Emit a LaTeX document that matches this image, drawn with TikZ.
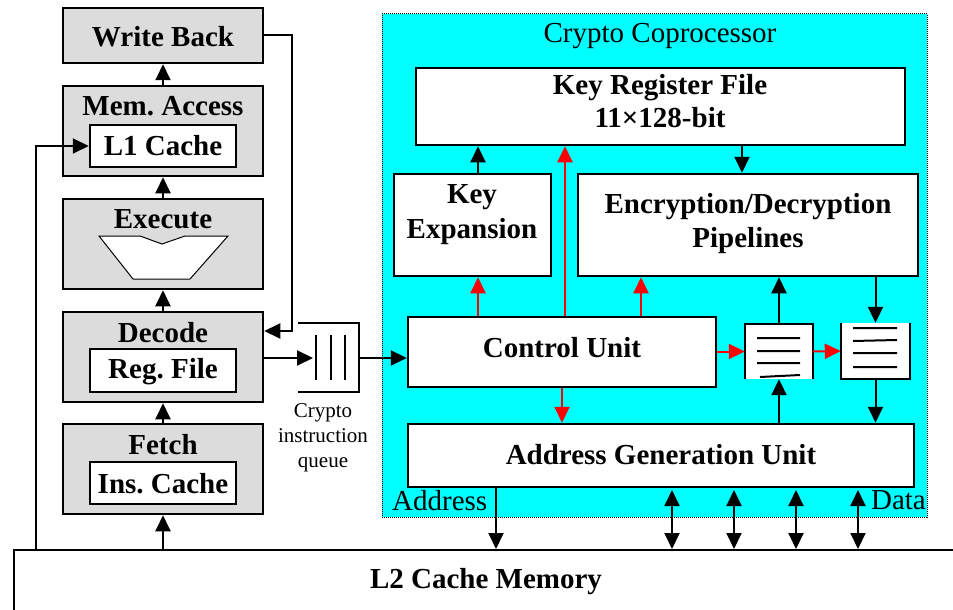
\documentclass[tikz,border=0pt]{standalone}
\usepackage{fontspec}
\setmainfont{Liberation Serif}
\usetikzlibrary{arrows.meta}
\definecolor{pgray}{HTML}{DCDCDC}
\definecolor{ccyan}{HTML}{00FFFF}
\definecolor{cred}{HTML}{FF0000}
\frenchspacing
\begin{document}
\begin{tikzpicture}[x=1pt,y=-1pt,
  gbox/.style={draw, line width=2.5pt, fill=pgray, inner sep=0pt},
  wbox/.style={draw, line width=2.5pt, fill=white, inner sep=0pt},
  lbl/.style={font=\frenchspacing\bfseries\fontsize{29}{34}\selectfont, inner sep=0pt, anchor=base},
  rlbl/.style={font=\fontsize{29}{34}\selectfont, inner sep=0pt, anchor=base},
  slbl/.style={font=\fontsize{21}{25}\selectfont, inner sep=0pt, anchor=base},
  arr/.style={-{Triangle[length=16pt,width=15pt]}, line width=2pt},
  darr/.style={{Triangle[length=16pt,width=15pt]}-{Triangle[length=16pt,width=15pt]}, line width=2pt},
  rarr/.style={arr, draw=cred, -{Triangle[length=16pt,width=15pt,fill=cred,color=cred]}},
  ln/.style={line width=2pt}]
\clip (0,0) rectangle (953,610);
\fill[white] (0,0) rectangle (953,610);

% ---------- Crypto coprocessor background ----------
\node[draw, line width=1pt, dash pattern=on 1pt off 1pt, fill=ccyan, inner sep=0pt,
      minimum width=545pt, minimum height=503pt] (cop) at (654.5,265.5) {};
\node[rlbl] (copt) at (660,43) {Crypto Coprocessor};

% ---------- L2 ----------
\node[draw, line width=2pt, fill=white, inner sep=0pt, minimum width=1000pt, minimum height=100pt,
      anchor=north west] (l2) at (13,549) {};
\node[lbl] (l2t) at (486,588) {L2 Cache Memory};

% ---------- pipeline ----------
\node[gbox, minimum width=200pt, minimum height=55pt] (wb) at (163,35.5) {};
\node[lbl] (wbt) at (163,47) {Write Back};

\node[gbox, minimum width=200pt, minimum height=90pt] (mem) at (163,131) {};
\node[lbl] (memt) at (163,115) {Mem. Access};
\node[wbox, minimum width=146pt, minimum height=42pt] (l1) at (163,146) {};
\node[lbl] (l1t) at (163,155) {L1 Cache};

\node[gbox, minimum width=200pt, minimum height=90pt] (exe) at (163,244) {};
\node[lbl] (exet) at (163,228) {Execute};
\draw[fill=white, line width=1pt] (99,236) -- (140,236) -- (162,244) -- (185,236) -- (228,236)
      -- (190,279) -- (133,279) -- cycle;

\node[gbox, minimum width=200pt, minimum height=90pt] (dec) at (163,357) {};
\node[lbl] (dect) at (163,342) {Decode};
\node[wbox, minimum width=146pt, minimum height=43pt] (rf) at (163,370.5) {};
\node[lbl] (rft) at (163,378) {Reg. File};

\node[gbox, minimum width=200pt, minimum height=90pt] (fet) at (163,469) {};
\node[lbl] (fett) at (163,454) {Fetch};
\node[wbox, minimum width=146pt, minimum height=42pt] (ic) at (163,483) {};
\node[lbl] (ict) at (163,493) {Ins. Cache};

\draw[arr] (fet.south |- l2.north) -- (fet.south);
\draw[arr] (fet.north) -- (dec.south);
\draw[arr] (dec.north) -- (exe.south);
\draw[arr] (exe.north) -- (mem.south);
\draw[arr] (mem.north) -- (wb.south);

\coordinate (l2l) at (36,549);
\draw[arr] (l2l) |- (l1.west);
\coordinate (wbturn) at (292,331);
\draw[arr] (wb.east) -| (wbturn) -- (dec.east |- wbturn);

% ---------- instruction queue ----------
\coordinate (qin) at (313,358);
\coordinate (qout) at (359,358);
\draw[ln] (298,323) -- (359,323) -- (359,392) -- (298,392);
\draw[ln] (316,335) -- (316,380) (331,335) -- (331,380) (345,335) -- (345,380);
\draw[arr] (dec.east |- qin) -- (qin);
\node[slbl] (q1) at (323,417) {Crypto};
\node[slbl] (q2) at (323,442) {instruction};
\node[slbl] (q3) at (323,467) {queue};

% ---------- coprocessor blocks ----------
\node[wbox, minimum width=489pt, minimum height=77pt] (krf) at (660.5,106.5) {};
\node[lbl] (krf1) at (660,95) {Key Register File};
\node[lbl] (krf2) at (660,127) {11×128-bit};

\node[wbox, minimum width=157pt, minimum height=102pt] (ke) at (472.5,225) {};
\node[lbl] (ke1) at (472,203) {Key};
\node[lbl] (ke2) at (472,238) {Expansion};

\node[wbox, minimum width=340pt, minimum height=102pt] (enc) at (748,225) {};
\node[lbl] (enc1) at (748,213) {Encryption/Decryption};
\node[lbl] (enc2) at (748,247) {Pipelines};

\node[wbox, minimum width=308pt, minimum height=70pt] (cu) at (562,352) {};
\node[lbl] (cut) at (562,357) {Control Unit};

\node[wbox, minimum width=506pt, minimum height=63pt] (agu) at (661,455.5) {};
\node[lbl] (agut) at (661,464) {Address Generation Unit};

% FIFOs
\node[fill=white, inner sep=0pt, minimum width=68pt, minimum height=55pt] (f1) at (779,351.5) {};
\draw[line width=2.5pt] (f1.south west) -- (f1.north west) -- (f1.north east) -- (f1.south east);
\draw[ln] (757,338) -- (800,338) (757,351) -- (800,351) (757,363) -- (800,363) (760,377) -- (800,375);
\node[fill=white, inner sep=0pt, minimum width=69pt, minimum height=56pt] (f2) at (875.5,351) {};
\draw[line width=2.5pt] (f2.north west) -- (f2.south west) -- (f2.south east) -- (f2.north east);
\draw[ln] (853,328) -- (897,328) (853,341) -- (897,340) (853,353) -- (897,353) (853,367) -- (897,367);

\draw[arr] (qout) -- (cu.west |- qout);

% coordinates for vertical connectors
\coordinate (xa) at (478,0);
\coordinate (xb) at (565,0);
\coordinate (xc) at (641,0);
\coordinate (xd) at (742,0);
\draw[arr] (xa |- ke.north) -- (xa |- krf.south);
\draw[arr] (xd |- krf.south) -- (xd |- enc.north);
\draw[rarr] (xa |- cu.north) -- (xa |- ke.south);
\draw[rarr] (xb |- cu.north) -- (xb |- krf.south);
\draw[rarr] (xc |- cu.north) -- (xc |- enc.south);
\draw[rarr] (cu.south) -- (cu.south |- agu.north);
\draw[rarr] (cu.east |- f1.west) -- (f1.west);
\draw[rarr] (f1.east) -- (f2.west);

\draw[arr] (f1.north) -- (f1.north |- enc.south);
\draw[arr] (f1.south |- agu.north) -- (f1.south);
\draw[arr] (f2.north |- enc.south) -- (f2.north);
\draw[arr] (f2.south) -- (f2.south |- agu.north);

% memory connections
\coordinate (xm) at (496,0);
\draw[arr] (xm |- agu.south) -- (xm |- l2.north);
\coordinate (d1) at (672,490);
\coordinate (d2) at (734,490);
\coordinate (d3) at (796,490);
\coordinate (d4) at (858,490);
\draw[darr] (d1) -- (d1 |- l2.north);
\draw[darr] (d2) -- (d2 |- l2.north);
\draw[darr] (d3) -- (d3 |- l2.north);
\draw[darr] (d4) -- (d4 |- l2.north);

\node[rlbl, anchor=base west] (addr) at (392,510) {Address};
\node[rlbl, anchor=base east] (data) at (926,509) {Data};
\end{tikzpicture}
\end{document}
